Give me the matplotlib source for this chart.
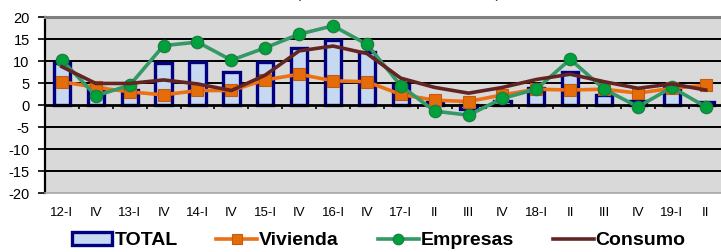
import matplotlib
matplotlib.use("Agg")
import matplotlib.pyplot as plt
import numpy as np

# ── Data ──────────────────────────────────────────────────────────────────────
categories = ["12-I", "IV", "13-I", "IV", "14-I", "IV", "15-I", "IV", "16-I", "IV",
              "17-I", "II", "III", "IV", "18-I", "II", "III", "IV", "19-I", "II"]

total = [9.5, 3.8, 3.4, 9.5, 9.8, 7.6, 9.8, 12.9, 14.7, 12.1,
         4.5, 0.7, -0.8, 1.0, 3.8, 7.6, 2.3, 0.9, 4.0, 0.8]
vivienda = [5.3, 4.0, 3.0, 2.3, 3.3, 3.3, 5.7, 7.0, 5.5, 5.3,
            2.4, 1.1, 0.8, 2.3, 3.6, 3.4, 3.6, 2.7, 3.8, 4.5]
empresas = [10.2, 2.1, 4.5, 13.5, 14.3, 10.2, 13.0, 16.1, 18.0, 13.8,
            4.4, -1.4, -2.3, 1.5, 3.6, 10.4, 3.6, -0.4, 4.0, -0.4]
consumo = [8.7, 4.9, 4.9, 5.7, 4.8, 3.3, 6.8, 12.3, 13.4, 11.7,
           6.1, 4.0, 2.7, 4.0, 5.8, 7.0, 5.3, 3.8, 4.8, 3.4]

plt.rcParams["font.family"] = ["Liberation Sans", "DejaVu Sans"]
plt.rcParams["axes.unicode_minus"] = False

fig = plt.figure(figsize=(7.21, 2.52), dpi=100)
ax = fig.add_axes([0.0624, 0.234, 0.94, 0.6985])
ax.set_facecolor("#d9d9d9")

x = np.arange(len(categories))

# gridlines
for y in [-15, -10, -5, 5, 10, 15]:
    ax.axhline(y, color="black", lw=1.4, zorder=1)

bars = ax.bar(x, total, width=0.48, color="#c6d9f1", edgecolor="#000080",
              linewidth=2.4, zorder=2, label="TOTAL")

# zero axis line with small category ticks below it
ax.axhline(0, color="black", lw=2.0, zorder=3)
ax.vlines(np.arange(len(categories)) - 0.5, -0.9, 0, color="black", lw=1.2, zorder=3)

l_viv, = ax.plot(x, vivienda, color="#ec7014", lw=2.6, marker="s", ms=8.5,
                 mfc="#e46c0a", mec="#c55a11", mew=0.8, zorder=4, label="Vivienda")
l_emp, = ax.plot(x, empresas, color="#339966", lw=2.6, marker="o", ms=9,
                 mfc="#00a03c", mec="#1e7a3c", mew=0.8, zorder=5, label="Empresas")
l_con, = ax.plot(x, consumo, color="#632523", lw=2.6, zorder=6, label="Consumo")

ax.set_xlim(-0.5, len(categories) - 0.5)
ax.set_ylim(-20, 20)
ax.set_yticks(np.arange(-20, 21, 5))
ax.set_xticks(x)
ax.set_xticklabels(categories, fontsize=9.5)
ax.tick_params(axis="x", length=0, pad=10)
ax.tick_params(axis="y", length=5, width=1.2, direction="out", labelsize=10.5, pad=6)

ax.spines["left"].set_color("black")
ax.spines["left"].set_linewidth(1.6)
ax.spines["top"].set_color("#808080")
ax.spines["top"].set_linewidth(2.2)
ax.spines["bottom"].set_color("#a6a6a6")
ax.spines["bottom"].set_linewidth(1.2)
ax.spines["right"].set_visible(False)

# title sits mostly above the visible area, as in the source crop
fig.text(0.552, 1 + 2 / 252, "(tasas de variación interanual)", ha="center",
         va="baseline", fontsize=11, color="#333333")

fig.legend([bars, l_viv, l_emp, l_con], ["TOTAL", "Vivienda", "Empresas", "Consumo"],
           loc="center", bbox_to_anchor=(0.525, 0.045), ncol=4, frameon=False,
           prop={"weight": "bold", "size": 14}, handlelength=2.1, markerscale=0.85,
           handletextpad=0.1, columnspacing=2.0)

fig.savefig("out.png", dpi=100)
